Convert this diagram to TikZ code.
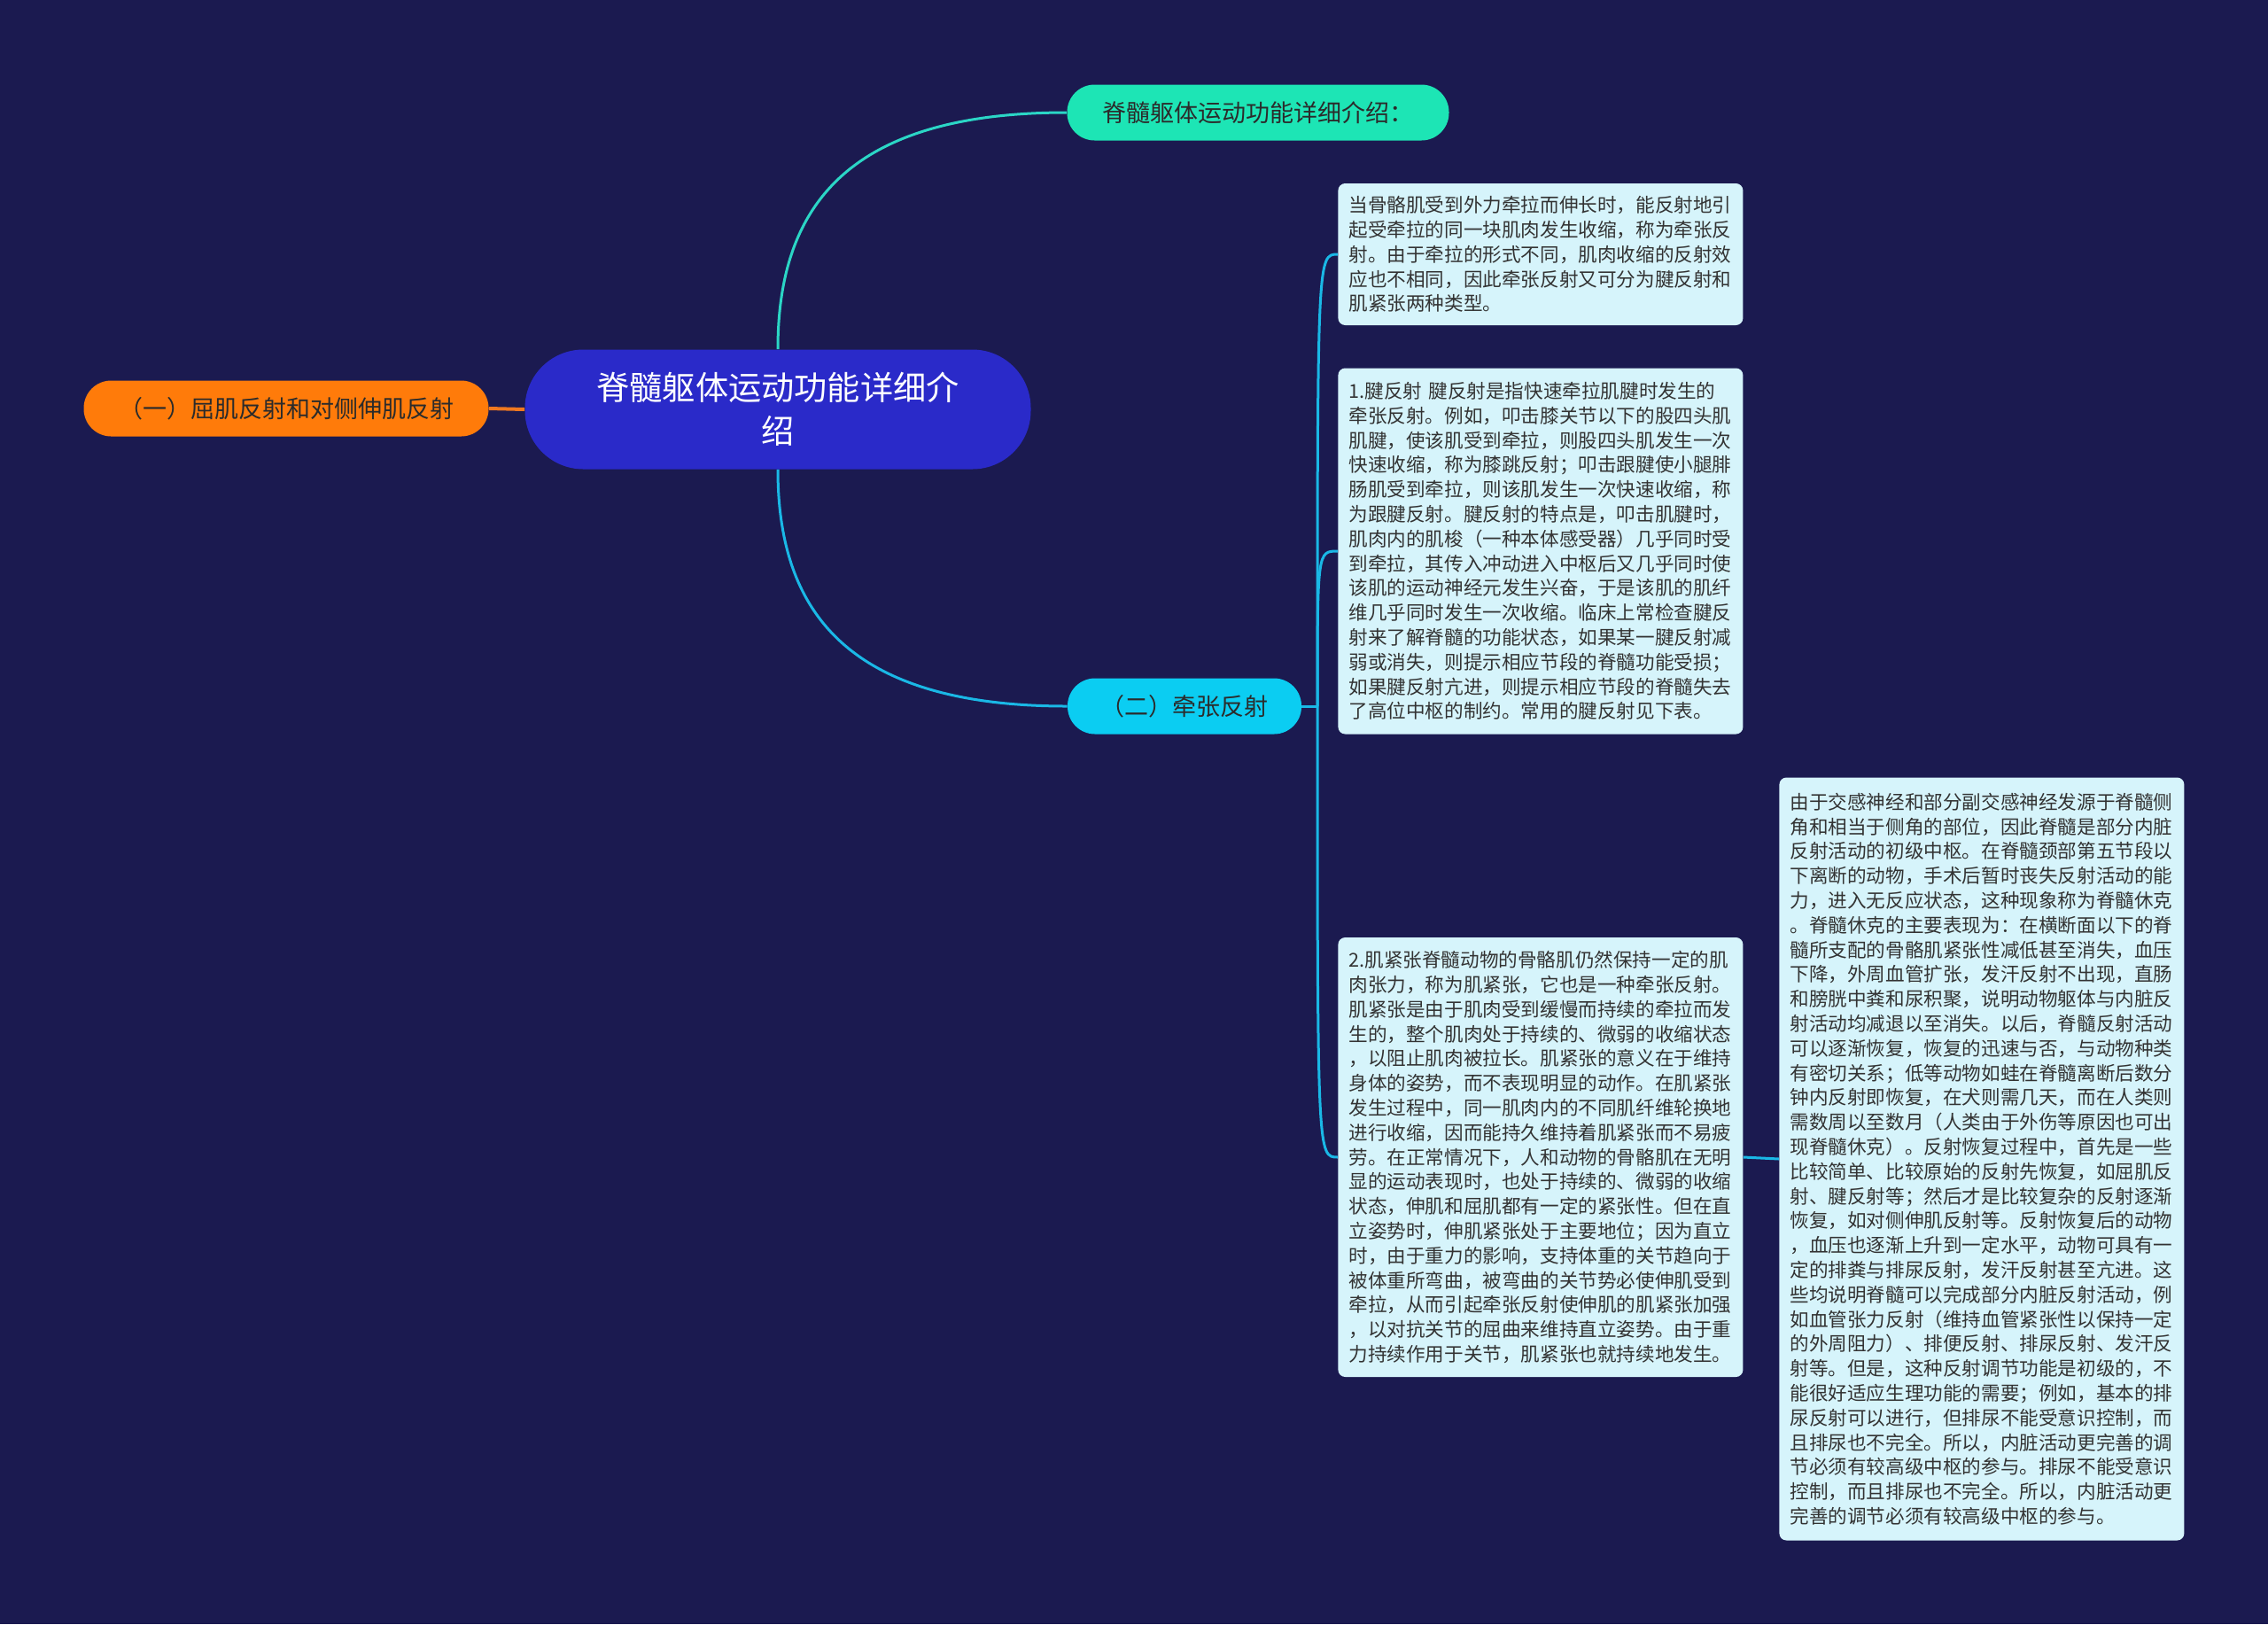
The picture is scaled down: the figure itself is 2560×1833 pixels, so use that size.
\documentclass[tikz,border=0pt]{standalone}
\usepackage{fontspec}
\setmainfont{Noto Sans CJK SC}
\usetikzlibrary{positioning}
\definecolor{bgnavy}{HTML}{1B1A50}
\definecolor{rootblue}{HTML}{2A2AC9}
\definecolor{flexorange}{HTML}{FF7B0A}
\definecolor{introgreen}{HTML}{1DE5B5}
\definecolor{stretchcyan}{HTML}{0BCDF2}
\definecolor{flexline}{HTML}{F07820}
\definecolor{introline}{HTML}{2BD6C6}
\definecolor{stretchline}{HTML}{1AB8E6}
\definecolor{notebg}{HTML}{D6F4FB}
\definecolor{notetext}{HTML}{333333}
\definecolor{darktext}{HTML}{2B2B2B}
\tikzset{
  rootnode/.style={fill=rootblue,rounded corners=33pt,minimum width=285.5pt,minimum height=67.5pt,inner sep=0pt,align=center,text=white,font=\fontsize{18.6}{24.5}\selectfont},
  pill/.style={rounded corners=15.5pt,minimum height=31.5pt,inner sep=0pt,align=center,text=darktext,font=\fontsize{13.5}{16}\selectfont},
  note/.style={fill=notebg,rounded corners=4pt,text width=216.5pt,inner xsep=6pt,inner ysep=6pt,align=left,anchor=west,text=notetext,font=\fontsize{10.8}{13.9}\selectfont},
  link/.style={line width=1.5pt},
}
\begin{document}
\begin{tikzpicture}[x=0.5pt,y=-0.5pt]
  \fill[bgnavy] (0,0) rectangle (2560,1833);
  \useasboundingbox (0,0) rectangle (2560,1833);
  % centre and first level
  \node[rootnode] (root) at (878,462) {脊髓躯体运动功能详细介\\绍};
  \node[pill,fill=flexorange,minimum width=228.5pt] (flex) at (323,461) {（一）屈肌反射和对侧伸肌反射};
  \node[pill,fill=introgreen,minimum width=215.5pt] (intro) at (1420,127) {脊髓躯体运动功能详细介绍：};
  \node[pill,fill=stretchcyan,minimum width=132pt] (stretch) at (1337,797) {（二）牵张反射};
  % text boxes
  \node[note,minimum height=80pt] (def) at (1510,287) {当骨骼肌受到外力牵拉而伸长时，能反射地引\\
起受牵拉的同一块肌肉发生收缩，称为牵张反\\
射。由于牵拉的形式不同，肌肉收缩的反射效\\
应也不相同，因此牵张反射又可分为腱反射和\\
肌紧张两种类型。};
  \node[note,minimum height=206.5pt] (tendon) at (1510,622) {1.腱反射 腱反射是指快速牵拉肌腱时发生的\\
牵张反射。例如，叩击膝关节以下的股四头肌\\
肌腱，使该肌受到牵拉，则股四头肌发生一次\\
快速收缩，称为膝跳反射；叩击跟腱使小腿腓\\
肠肌受到牵拉，则该肌发生一次快速收缩，称\\
为跟腱反射。腱反射的特点是，叩击肌腱时，\\
肌肉内的肌梭（一种本体感受器）几乎同时受\\
到牵拉，其传入冲动进入中枢后又几乎同时使\\
该肌的运动神经元发生兴奋，于是该肌的肌纤\\
维几乎同时发生一次收缩。临床上常检查腱反\\
射来了解脊髓的功能状态，如果某一腱反射减\\
弱或消失，则提示相应节段的脊髓功能受损；\\
如果腱反射亢进，则提示相应节段的脊髓失去\\
了高位中枢的制约。常用的腱反射见下表。};
  \node[note,minimum height=248pt] (tone) at (1510,1306) {2.肌紧张脊髓动物的骨骼肌仍然保持一定的肌\\
肉张力，称为肌紧张，它也是一种牵张反射。\\
肌紧张是由于肌肉受到缓慢而持续的牵拉而发\\
生的，整个肌肉处于持续的、微弱的收缩状态\\
，以阻止肌肉被拉长。肌紧张的意义在于维持\\
身体的姿势，而不表现明显的动作。在肌紧张\\
发生过程中，同一肌肉内的不同肌纤维轮换地\\
进行收缩，因而能持久维持着肌紧张而不易疲\\
劳。在正常情况下，人和动物的骨骼肌在无明\\
显的运动表现时，也处于持续的、微弱的收缩\\
状态，伸肌和屈肌都有一定的紧张性。但在直\\
立姿势时，伸肌紧张处于主要地位；因为直立\\
时，由于重力的影响，支持体重的关节趋向于\\
被体重所弯曲，被弯曲的关节势必使伸肌受到\\
牵拉，从而引起牵张反射使伸肌的肌紧张加强\\
，以对抗关节的屈曲来维持直立姿势。由于重\\
力持续作用于关节，肌紧张也就持续地发生。};
  \node[note,minimum height=430.5pt] (visceral) at (2008,1308) {由于交感神经和部分副交感神经发源于脊髓侧\\
角和相当于侧角的部位，因此脊髓是部分内脏\\
反射活动的初级中枢。在脊髓颈部第五节段以\\
下离断的动物，手术后暂时丧失反射活动的能\\
力，进入无反应状态，这种现象称为脊髓休克\\
。脊髓休克的主要表现为：在横断面以下的脊\\
髓所支配的骨骼肌紧张性减低甚至消失，血压\\
下降，外周血管扩张，发汗反射不出现，直肠\\
和膀胱中粪和尿积聚，说明动物躯体与内脏反\\
射活动均减退以至消失。以后，脊髓反射活动\\
可以逐渐恢复，恢复的迅速与否，与动物种类\\
有密切关系；低等动物如蛙在脊髓离断后数分\\
钟内反射即恢复，在犬则需几天，而在人类则\\
需数周以至数月（人类由于外伤等原因也可出\\
现脊髓休克）。反射恢复过程中，首先是一些\\
比较简单、比较原始的反射先恢复，如屈肌反\\
射、腱反射等；然后才是比较复杂的反射逐渐\\
恢复，如对侧伸肌反射等。反射恢复后的动物\\
，血压也逐渐上升到一定水平，动物可具有一\\
定的排粪与排尿反射，发汗反射甚至亢进。这\\
些均说明脊髓可以完成部分内脏反射活动，例\\
如血管张力反射（维持血管紧张性以保持一定\\
的外周阻力）、排便反射、排尿反射、发汗反\\
射等。但是，这种反射调节功能是初级的，不\\
能很好适应生理功能的需要；例如，基本的排\\
尿反射可以进行，但排尿不能受意识控制，而\\
且排尿也不完全。所以，内脏活动更完善的调\\
节必须有较高级中枢的参与。排尿不能受意识\\
控制，而且排尿也不完全。所以，内脏活动更\\
完善的调节必须有较高级中枢的参与。};
  % connectors
  \draw[link,draw=flexline,line width=2pt] (root.west) -- (flex.east);
  \draw[link,draw=introline] (root.north) .. controls +(0,-166) and +(-242,0) .. (intro.west);
  \draw[link,draw=stretchline] (root.south) .. controls +(0,166) and +(-242,0) .. (stretch.west);
  \coordinate (trunk) at (1487,797);
  \draw[link,draw=stretchline] (stretch.east) -- (trunk);
  \foreach \b in {def,tendon,tone}
    \draw[link,draw=stretchline] (trunk) .. controls (trunk |- \b.west) .. (\b.west);
  \draw[link,draw=stretchline] (tone.east) -- (visceral.west);
\end{tikzpicture}
\end{document}
